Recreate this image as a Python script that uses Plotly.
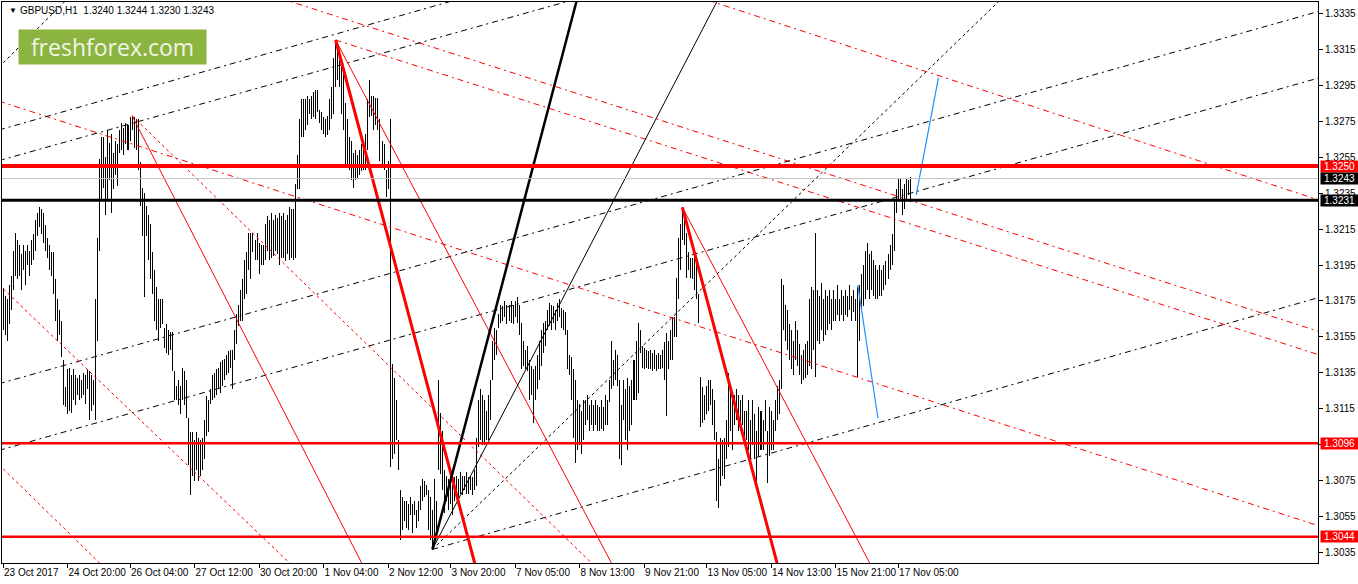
import plotly.graph_objects as go

# GBPUSD H1 bars (high / low per hourly bar)
bar_high = [
    1.3182, 1.3178, 1.3176, 1.3184, 1.3189, 1.3203, 1.3213, 1.3209, 1.3206, 1.3201,
    1.3206, 1.3203, 1.3206, 1.3203, 1.3209, 1.3212, 1.3220, 1.3224, 1.3227, 1.3226,
    1.3224, 1.3217, 1.3210, 1.3206, 1.3202, 1.3202, 1.3187, 1.3176, 1.3170, 1.3164,
    1.3142, 1.3127, 1.3137, 1.3138, 1.3134, 1.3137, 1.3134, 1.3132, 1.3134, 1.3131,
    1.3135, 1.3134, 1.3137, 1.3136, 1.3134, 1.3131, 1.3176, 1.3210, 1.3254, 1.3266,
    1.3266, 1.3255, 1.3270, 1.3263, 1.3268, 1.3257, 1.3264, 1.3262, 1.3270, 1.3274,
    1.3271, 1.3274, 1.3273, 1.3277, 1.3278, 1.3277, 1.3276, 1.3276, 1.3252, 1.3238,
    1.3235, 1.3228, 1.3223, 1.3218, 1.3202, 1.3192, 1.3183, 1.3176, 1.3176, 1.3176,
    1.3160, 1.3162, 1.3159, 1.3158, 1.3158, 1.3136, 1.3128, 1.3131, 1.3128, 1.3138,
    1.3136, 1.3131, 1.3110, 1.3102, 1.3102, 1.3098, 1.3102, 1.3099, 1.3098, 1.3099,
    1.3109, 1.3122, 1.3120, 1.3126, 1.3134, 1.3135, 1.3137, 1.3138, 1.3141, 1.3142,
    1.3143, 1.3145, 1.3147, 1.3148, 1.3148, 1.3159, 1.3168, 1.3173, 1.3181, 1.3187,
    1.3198, 1.3202, 1.3213, 1.3213, 1.3213, 1.3209, 1.3213, 1.3207, 1.3206, 1.3206,
    1.3218, 1.3222, 1.3220, 1.3224, 1.3220, 1.3223, 1.3221, 1.3224, 1.3222, 1.3224,
    1.3220, 1.3223, 1.3227, 1.3226, 1.3226, 1.3240, 1.3256, 1.3276, 1.3287, 1.3287,
    1.3287, 1.3289, 1.3287, 1.3289, 1.3291, 1.3292, 1.3292, 1.3281, 1.3280, 1.3277,
    1.3276, 1.3278, 1.3287, 1.3294, 1.3310, 1.3320, 1.3317, 1.3309, 1.3309, 1.3303,
    1.3285, 1.3276, 1.3266, 1.3264, 1.3257, 1.3259, 1.3256, 1.3259, 1.3262, 1.3259,
    1.3268, 1.3287, 1.3298, 1.3289, 1.3289, 1.3288, 1.3288, 1.3276, 1.3264, 1.3262,
    1.3248, 1.3253, 1.3276, 1.3140, 1.3132, 1.3120, 1.3098, 1.3070, 1.3066, 1.3064,
    1.3064, 1.3062, 1.3066, 1.3062, 1.3064, 1.3059, 1.3064, 1.3072, 1.3076, 1.3075,
    1.3073, 1.3070, 1.3066, 1.3059, 1.3076, 1.3064, 1.3131, 1.3113, 1.3103, 1.3081,
    1.3078, 1.3076, 1.3081, 1.3073, 1.3077, 1.3078, 1.3076, 1.3080, 1.3078, 1.3078,
    1.3080, 1.3077, 1.3078, 1.3077, 1.3081, 1.3099, 1.3120, 1.3126, 1.3123, 1.3120,
    1.3114, 1.3123, 1.3131, 1.3153, 1.3160, 1.3159, 1.3168, 1.3173, 1.3172, 1.3175,
    1.3173, 1.3173, 1.3175, 1.3173, 1.3175, 1.3177, 1.3173, 1.3163, 1.3153, 1.3148,
    1.3150, 1.3142, 1.3139, 1.3137, 1.3139, 1.3145, 1.3153, 1.3159, 1.3163, 1.3164,
    1.3170, 1.3174, 1.3173, 1.3172, 1.3170, 1.3174, 1.3176, 1.3171, 1.3170, 1.3169,
    1.3159, 1.3145, 1.3144, 1.3137, 1.3131, 1.3120, 1.3118, 1.3114, 1.3120, 1.3120,
    1.3123, 1.3117, 1.3120, 1.3117, 1.3120, 1.3117, 1.3116, 1.3120, 1.3116, 1.3123,
    1.3120, 1.3131, 1.3153, 1.3142, 1.3148, 1.3145, 1.3131, 1.3117, 1.3131, 1.3126,
    1.3132, 1.3128, 1.3131, 1.3142, 1.3153, 1.3163, 1.3159, 1.3150, 1.3149, 1.3148,
    1.3147, 1.3148, 1.3146, 1.3148, 1.3145, 1.3146, 1.3145, 1.3148, 1.3152, 1.3157,
    1.3153, 1.3159, 1.3166, 1.3166, 1.3188, 1.3210, 1.3218, 1.3227, 1.3225, 1.3213,
    1.3202, 1.3199, 1.3199, 1.3203, 1.3198, 1.3179, 1.3133, 1.3127, 1.3123, 1.3128,
    1.3131, 1.3131, 1.3126, 1.3120, 1.3102, 1.3087, 1.3099, 1.3098, 1.3099, 1.3109,
    1.3135, 1.3126, 1.3120, 1.3123, 1.3126, 1.3123, 1.3120, 1.3123, 1.3114, 1.3114,
    1.3120, 1.3109, 1.3120, 1.3112, 1.3103, 1.3116, 1.3114, 1.3109, 1.3120, 1.3103,
    1.3116, 1.3114, 1.3109, 1.3120, 1.3128, 1.3131, 1.3187, 1.3184, 1.3173, 1.3170,
    1.3162, 1.3159, 1.3153, 1.3164, 1.3159, 1.3151, 1.3145, 1.3148, 1.3151, 1.3153,
    1.3176, 1.3183, 1.3181, 1.3213, 1.3181, 1.3178, 1.3185, 1.3176, 1.3181, 1.3178,
    1.3181, 1.3176, 1.3181, 1.3176, 1.3184, 1.3176, 1.3181, 1.3178, 1.3181, 1.3178,
    1.3184, 1.3178, 1.3181, 1.3176, 1.3183, 1.3184, 1.3190, 1.3195, 1.3203, 1.3207,
    1.3201, 1.3203, 1.3198, 1.3195, 1.3192, 1.3195, 1.3192, 1.3195, 1.3197, 1.3201,
    1.3206, 1.3212, 1.3231, 1.3237, 1.3243, 1.3243, 1.3237, 1.3240, 1.3243, 1.3242,
    1.3244,
]
bar_low = [
    1.3159, 1.3156, 1.3153, 1.3162, 1.3170, 1.3181, 1.3189, 1.3187, 1.3189, 1.3181,
    1.3192, 1.3184, 1.3195, 1.3189, 1.3195, 1.3198, 1.3203, 1.3211, 1.3216, 1.3212,
    1.3207, 1.3203, 1.3199, 1.3192, 1.3189, 1.3179, 1.3164, 1.3153, 1.3156, 1.3144,
    1.3117, 1.3116, 1.3112, 1.3114, 1.3113, 1.3120, 1.3117, 1.3123, 1.3120, 1.3121,
    1.3123, 1.3118, 1.3126, 1.3109, 1.3114, 1.3117, 1.3109, 1.3153, 1.3203, 1.3231,
    1.3238, 1.3223, 1.3231, 1.3242, 1.3224, 1.3237, 1.3245, 1.3239, 1.3257, 1.3259,
    1.3256, 1.3262, 1.3259, 1.3264, 1.3270, 1.3260, 1.3259, 1.3248, 1.3228, 1.3211,
    1.3177, 1.3211, 1.3198, 1.3187, 1.3179, 1.3164, 1.3159, 1.3153, 1.3160, 1.3162,
    1.3149, 1.3146, 1.3145, 1.3148, 1.3136, 1.3120, 1.3120, 1.3117, 1.3112, 1.3120,
    1.3117, 1.3110, 1.3084, 1.3067, 1.3078, 1.3075, 1.3081, 1.3075, 1.3078, 1.3081,
    1.3087, 1.3100, 1.3102, 1.3118, 1.3120, 1.3121, 1.3123, 1.3126, 1.3124, 1.3128,
    1.3131, 1.3134, 1.3135, 1.3138, 1.3126, 1.3142, 1.3151, 1.3161, 1.3164, 1.3164,
    1.3176, 1.3179, 1.3192, 1.3187, 1.3202, 1.3198, 1.3198, 1.3190, 1.3195, 1.3195,
    1.3198, 1.3203, 1.3198, 1.3199, 1.3200, 1.3203, 1.3201, 1.3195, 1.3199, 1.3199,
    1.3197, 1.3201, 1.3198, 1.3199, 1.3198, 1.3199, 1.3237, 1.3237, 1.3266, 1.3266,
    1.3270, 1.3273, 1.3279, 1.3276, 1.3277, 1.3276, 1.3280, 1.3274, 1.3270, 1.3268,
    1.3266, 1.3267, 1.3270, 1.3276, 1.3279, 1.3294, 1.3298, 1.3294, 1.3279, 1.3270,
    1.3249, 1.3249, 1.3248, 1.3242, 1.3238, 1.3242, 1.3243, 1.3245, 1.3247, 1.3248,
    1.3248, 1.3259, 1.3277, 1.3278, 1.3270, 1.3273, 1.3270, 1.3253, 1.3249, 1.3248,
    1.3233, 1.3237, 1.3083, 1.3087, 1.3090, 1.3098, 1.3081, 1.3042, 1.3048, 1.3053,
    1.3049, 1.3048, 1.3056, 1.3046, 1.3056, 1.3049, 1.3053, 1.3059, 1.3064, 1.3066,
    1.3067, 1.3048, 1.3042, 1.3037, 1.3042, 1.3048, 1.3081, 1.3079, 1.3070, 1.3057,
    1.3064, 1.3059, 1.3062, 1.3056, 1.3064, 1.3067, 1.3062, 1.3068, 1.3067, 1.3070,
    1.3068, 1.3068, 1.3070, 1.3067, 1.3070, 1.3072, 1.3094, 1.3098, 1.3095, 1.3095,
    1.3098, 1.3098, 1.3109, 1.3131, 1.3142, 1.3145, 1.3160, 1.3163, 1.3164, 1.3166,
    1.3162, 1.3164, 1.3163, 1.3162, 1.3166, 1.3163, 1.3156, 1.3137, 1.3139, 1.3137,
    1.3136, 1.3120, 1.3123, 1.3107, 1.3120, 1.3126, 1.3131, 1.3139, 1.3146, 1.3150,
    1.3159, 1.3161, 1.3159, 1.3163, 1.3159, 1.3164, 1.3166, 1.3160, 1.3159, 1.3156,
    1.3137, 1.3134, 1.3120, 1.3099, 1.3085, 1.3092, 1.3095, 1.3090, 1.3098, 1.3106,
    1.3109, 1.3103, 1.3106, 1.3103, 1.3106, 1.3103, 1.3103, 1.3104, 1.3103, 1.3106,
    1.3106, 1.3119, 1.3126, 1.3128, 1.3131, 1.3128, 1.3087, 1.3084, 1.3109, 1.3098,
    1.3092, 1.3103, 1.3106, 1.3120, 1.3120, 1.3124, 1.3146, 1.3138, 1.3137, 1.3138,
    1.3137, 1.3137, 1.3136, 1.3137, 1.3136, 1.3137, 1.3137, 1.3138, 1.3131, 1.3111,
    1.3137, 1.3142, 1.3142, 1.3155, 1.3155, 1.3176, 1.3192, 1.3209, 1.3206, 1.3188,
    1.3192, 1.3188, 1.3187, 1.3181, 1.3176, 1.3163, 1.3105, 1.3107, 1.3109, 1.3112,
    1.3114, 1.3117, 1.3106, 1.3098, 1.3064, 1.3060, 1.3072, 1.3078, 1.3076, 1.3087,
    1.3094, 1.3103, 1.3092, 1.3106, 1.3109, 1.3103, 1.3103, 1.3106, 1.3098, 1.3098,
    1.3092, 1.3087, 1.3095, 1.3087, 1.3074, 1.3089, 1.3092, 1.3092, 1.3103, 1.3074,
    1.3089, 1.3092, 1.3092, 1.3103, 1.3109, 1.3112, 1.3126, 1.3159, 1.3153, 1.3148,
    1.3142, 1.3137, 1.3134, 1.3142, 1.3139, 1.3134, 1.3129, 1.3131, 1.3132, 1.3134,
    1.3139, 1.3137, 1.3148, 1.3133, 1.3153, 1.3151, 1.3159, 1.3153, 1.3156, 1.3159,
    1.3162, 1.3159, 1.3164, 1.3164, 1.3167, 1.3164, 1.3167, 1.3164, 1.3167, 1.3166,
    1.3170, 1.3164, 1.3169, 1.3164, 1.3133, 1.3153, 1.3170, 1.3172, 1.3176, 1.3181,
    1.3176, 1.3181, 1.3178, 1.3176, 1.3176, 1.3178, 1.3178, 1.3181, 1.3184, 1.3187,
    1.3192, 1.3195, 1.3203, 1.3224, 1.3231, 1.3231, 1.3223, 1.3226, 1.3231, 1.3234,
    1.3230,
]

# time axis labels (bar number -> label)
time_ticks = [0, 32, 63, 95, 127, 159, 191, 222, 254, 286, 318, 349, 381, 413, 444]
time_labels = ["23 Oct 2017", "24 Oct 20:00", "26 Oct 04:00", "27 Oct 12:00", "30 Oct 20:00",
               "1 Nov 04:00", "2 Nov 12:00", "3 Nov 20:00", "7 Nov 05:00", "8 Nov 13:00",
               "9 Nov 21:00", "13 Nov 05:00", "14 Nov 13:00", "15 Nov 21:00", "17 Nov 05:00"]
price_ticks = [1.3335, 1.3315, 1.3295, 1.3275, 1.3255, 1.3235, 1.3215, 1.3195, 1.3175,
               1.3155, 1.3135, 1.3115, 1.3095, 1.3075, 1.3055, 1.3035]

# horizontal levels
red_levels = [1.3250, 1.3096, 1.3044]
black_level = 1.3231
bid_price = 1.3243
last_bar = "GBPUSD,H1  1.3240 1.3244 1.3230 1.3243"

# trend lines as (bar, price) -> (bar, price)
red_thick = [[(165, 1.3320), (240, 1.3004)], [(337, 1.3227), (390, 1.3004)]]
red_thin = [[(165, 1.3320), (310, 1.3012)], [(64, 1.3278), (185, 1.3014)],
            [(337, 1.3227), (440, 1.3008)]]
red_dashdot = [[(-2, 1.3286), (653, 1.3050)], [(138, 1.3343), (653, 1.3158)],
               [(165, 1.3320), (653, 1.3145)], [(350, 1.3342), (653, 1.3231)]]
red_dotted = [[(-2, 1.3184), (150, 1.3021)], [(-2, 1.3084), (52, 1.3025)],
              [(64, 1.3278), (296, 1.3025)]]
black_dashdot = [[(-2, 1.3270), (230, 1.3344)], [(-2, 1.3253), (285, 1.3343)],
                 [(-2, 1.3129), (653, 1.3336)], [(-2, 1.3092), (653, 1.3299)],
                 [(213, 1.3037), (653, 1.3177)]]
black_dotted = [[(-2, 1.3305), (33, 1.3344)], [(213, 1.3037), (500, 1.3348)]]
black_thick = [[(213, 1.3037), (290, 1.3365)]]
black_thin = [[(213, 1.3037), (360, 1.3354)]]
blue_lines = [[(424, 1.3184), (434, 1.3110)], [(453, 1.3234), (464, 1.3299)]]

fig = go.Figure()

bars = list(range(len(bar_high)))
fig.add_trace(go.Bar(
    x=bars, base=bar_low, y=[h - l for h, l in zip(bar_high, bar_low)],
    width=0.5, marker=dict(color="rgba(0,0,0,0.99)", line=dict(width=0)),
    hoverinfo="skip"))


def add_lines(lines, color, width, dash="solid"):
    for (x0, y0), (x1, y1) in lines:
        fig.add_trace(go.Scatter(x=[x0, x1], y=[y0, y1], mode="lines",
                                 line=dict(color=color, width=width, dash=dash),
                                 hoverinfo="skip"))


add_lines(red_dashdot, "red", 1, "6px,4px,2px,4px")
add_lines(black_dashdot, "black", 1, "6px,4px,2px,4px")
add_lines(red_dotted, "red", 1, "3px,3px")
add_lines(black_dotted, "black", 1, "3px,3px")
add_lines(red_thin, "red", 1)
add_lines(black_thin, "black", 1)
add_lines(red_thick, "red", 3)
add_lines(black_thick, "black", 2.5)
add_lines(blue_lines, "#1e90ff", 1.2)

add_lines([[(-5, bid_price), (660, bid_price)]], "#c0c0c0", 1)
add_lines([[(-5, black_level), (660, black_level)]], "black", 3)
for i, p in enumerate(red_levels):
    add_lines([[(-5, p), (660, p)]], "red", 4 if i == 0 else 2.5)

# boxed price labels on the right scale
boxed = [(1.3250, "red"), (bid_price, "black"), (black_level, "black"),
         (1.3096, "red"), (1.3044, "red")]
for p, c in boxed:
    fig.add_annotation(xref="paper", yref="y", x=1, y=p, xanchor="left", xshift=2,
                       text=f"{p:.4f}", showarrow=False, bgcolor=c, width=37, height=11,
                       borderpad=0, font=dict(color="white", size=10, family="Liberation Sans"))

# header and watermark
fig.add_annotation(xref="paper", yref="paper", x=0.0035, y=0.996, xanchor="left", yanchor="top",
                   text="▼", showarrow=False, font=dict(size=8, color="black"))
fig.add_annotation(xref="paper", yref="paper", x=0.0122, y=0.998, xanchor="left", yanchor="top",
                   text=last_bar, showarrow=False,
                   font=dict(size=10, color="black", family="Liberation Sans"))
fig.add_annotation(xref="paper", yref="paper", x=0.0122, y=0.9519, xanchor="left", yanchor="top",
                   text="freshforex.com", showarrow=False, bgcolor="#8cb441",
                   width=187, height=34, borderpad=0,
                   font=dict(size=23, color="#f0f5e6", family="Open Sans"))

fig.update_layout(
    width=1358, height=584, margin=dict(l=2, r=40, t=2, b=21, autoexpand=False),
    paper_bgcolor="white", plot_bgcolor="white", showlegend=False, bargap=0,
    font=dict(family="Liberation Sans", size=10, color="black"))
fig.update_xaxes(range=[-0.5, 652.3], tickvals=time_ticks, ticktext=time_labels,
                 ticks="outside", ticklen=4, tickcolor="black", ticklabelposition="outside right",
                 tickangle=0, automargin=False,
                 showgrid=False, zeroline=False, showline=True, linecolor="black",
                 linewidth=1, mirror=True)
fig.update_yaxes(side="right", range=[1.302944, 1.334111], tickvals=price_ticks,
                 ticktext=[f"{p:.4f}" for p in price_ticks], ticks="outside", ticklen=4,
                 tickcolor="black", showgrid=False, zeroline=False, showline=True,
                 linecolor="black", linewidth=1, mirror=True, automargin=False)

# the page's default body margin would shift the chart, so drop it
fig.write_html("out.html", config={"displayModeBar": False},
               post_script="document.body.style.margin='0px';")
